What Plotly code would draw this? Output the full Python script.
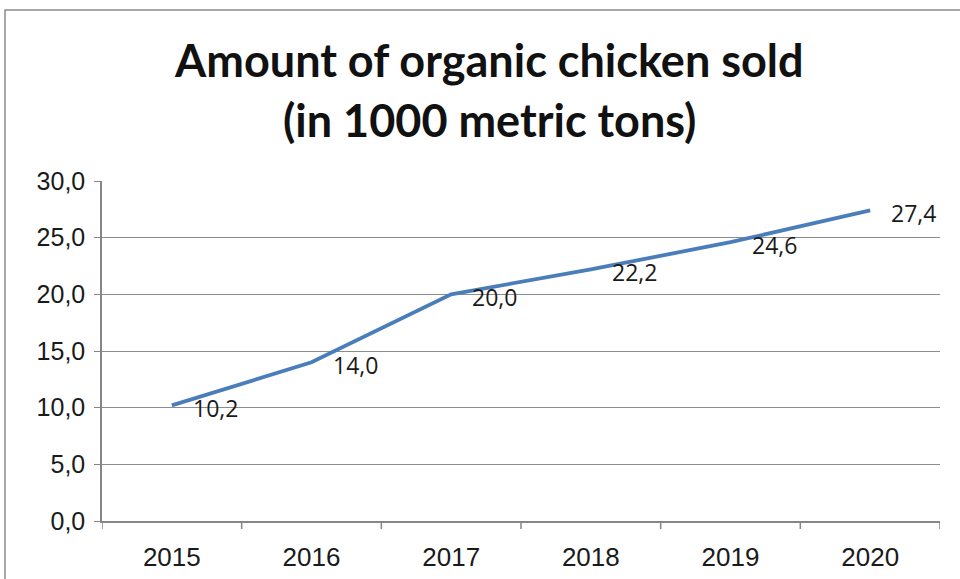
import plotly.graph_objects as go

years = ["2015", "2016", "2017", "2018", "2019", "2020"]
amounts = [10.2, 14.0, 20.0, 22.2, 24.6, 27.4]
labels = ["10,2", "14,0", "20,0", "22,2", "24,6", "27,4"]
y_ticks = [0, 5, 10, 15, 20, 25, 30]
y_tick_text = ["0,0", "5,0", "10,0", "15,0", "20,0", "25,0", "30,0"]
title_lines = ["Amount of organic chicken sold", "(in 1000 metric tons)"]

W, H = 960, 579
# plot area in pixels: x 102..940, y 181..521
L, T = 102, 181
R = W - 940
B = H - 521
pw, ph = W - L - R, H - T - B

def px2x(px):
    return (px - L) / pw

def py2y(py):
    return (H - B - py) / ph

fig = go.Figure()
fig.add_trace(go.Scatter(
    x=list(range(len(years))), y=amounts, mode="lines",
    line=dict(color="#4A7EBB", width=3.8),
    hoverinfo="skip", showlegend=False,
))

for i, (v, lab) in enumerate(zip(amounts, labels)):
    fig.add_annotation(x=i, y=v, xref="x", yref="y", text=lab, showarrow=False,
                       xanchor="left", yanchor="middle", xshift=19, yshift=-3,
                       font=dict(family="Open Sans, sans-serif", size=23, color="#1a1a1a"))

tick_family = "Arial, 'Liberation Sans', sans-serif"
fig.update_layout(
    width=W, height=H, margin=dict(l=L, r=R, t=T, b=B, autoexpand=False),
    paper_bgcolor="white", plot_bgcolor="white",
    xaxis=dict(range=[-0.5, len(years) - 0.5], tickmode="array",
               tickvals=list(range(len(years))), ticktext=years,
               showgrid=False, zeroline=False, showline=True, linecolor="#868686", linewidth=1.5,
               ticks="", ticklabelstandoff=12,
               tickfont=dict(family=tick_family, size=26, color="#1a1a1a")),
    yaxis=dict(range=[0, 30], tickmode="array", tickvals=y_ticks, ticktext=y_tick_text,
               showgrid=True, gridcolor="#8c8c8c", gridwidth=1.4, zeroline=False,
               showline=True, linecolor="#868686", linewidth=1.5,
               ticks="outside", ticklen=6, tickcolor="#868686", tickwidth=1.4,
               ticklabelstandoff=4,
               tickfont=dict(family=tick_family, size=25, color="#1a1a1a")),
)

# category separator tick marks on x axis
for i in range(len(years) + 1):
    xv = i - 0.5
    fig.add_shape(type="line", xref="x", yref="paper", x0=xv, x1=xv,
                  y0=0, y1=-8 / ph, line=dict(color="#868686", width=1.5))

# chart border
fig.add_shape(type="rect", xref="paper", yref="paper",
              x0=px2x(5), x1=px2x(990), y0=py2y(620), y1=py2y(10),
              line=dict(color="#8a8a8a", width=1.5), fillcolor="rgba(0,0,0,0)", layer="below")

for line_text, yc in zip(title_lines, [60, 120]):
    fig.add_annotation(text="<b>" + line_text + "</b>", xref="paper", yref="paper",
                       x=px2x(489), y=py2y(yc), xanchor="center", yanchor="middle",
                       showarrow=False,
                       font=dict(family="Lato, Open Sans, sans-serif", size=45, color="#111111"))

fig.write_html("out.html", config={"displayModeBar": False},
               post_script="document.body.style.margin='0';document.body.style.overflow='hidden';")
